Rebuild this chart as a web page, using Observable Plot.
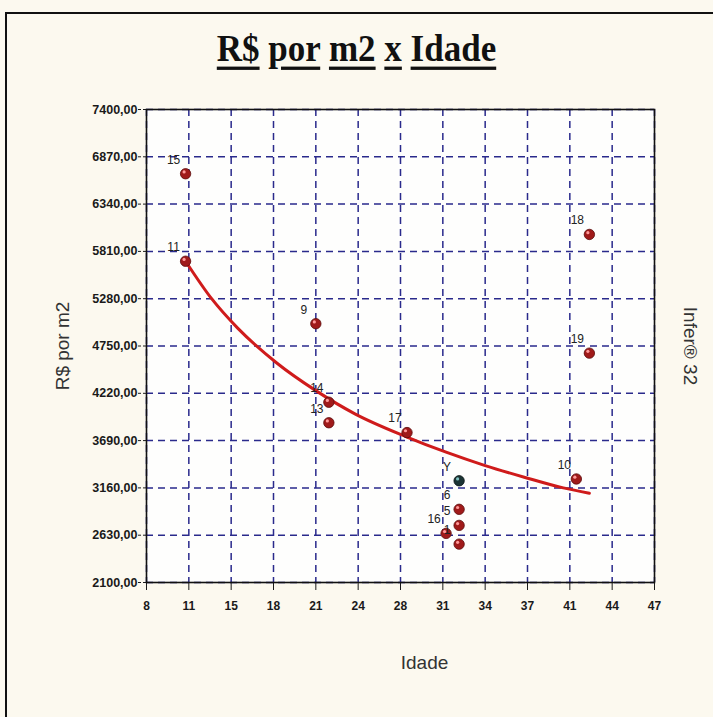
<!DOCTYPE html>
<html><head><meta charset="utf-8">
<script src="https://cdn.jsdelivr.net/npm/d3@7"></script>
<script src="https://cdn.jsdelivr.net/npm/@observablehq/plot@0.6"></script>
<style>
body{margin:0;background:#fcf9ef;}
#wrap{position:relative;width:713px;height:717px;overflow:hidden;background:#fcf9ef;}
#border{position:absolute;left:5px;top:12px;width:800px;height:800px;border-left:2px solid #111;border-top:2px solid #111;box-sizing:border-box;}
#title{position:absolute;left:0;width:713px;top:29px;text-align:center;font:bold 35px 'Liberation Serif','Times New Roman',serif;color:#111;transform:scaleY(1.1);}
#title u{text-decoration-thickness:3px;text-underline-offset:5px;}
#chart{position:absolute;left:0;top:0;}
</style></head>
<body>
<div id="wrap">
  <div id="border"></div>
  <div id="title"><u>R$</u> <u>por</u> <u>m2</u> <u>x</u> <u>Idade</u></div>
  <div id="chart"></div>
</div>
<script>
// pontos (dados)
const ids   = ["15","11","9","14","13","17","Y","6","5","16","1","18","19","10"];
const idade = [11, 11, 21, 22, 22, 28, 32, 32, 32, 31, 32, 42, 42, 41];
const valor = [6680,5700,5000,4120,3890,3780,3240,2920,2740,2650,2530,6000,4670,3260];
// curva de regressão
const curvaIdade = [11, 13, 15, 18, 21, 24, 28, 31, 34, 37, 40, 42];
const curvaValor = [5700,5280,4950,4560,4250,3990,3730,3560,3410,3280,3160,3100];
// ticks
const xTicks = [8,11.25,14.5,17.75,21,24.25,27.5,30.75,34,37.25,40.5,43.75,47];
const yTicks = [2100,2630,3160,3690,4220,4750,5280,5810,6340,6870,7400];

const pts = ids.map((id,i)=>({id, x: idade[i], y: valor[i], black: id==="Y"}));
const red = pts.filter(d=>!d.black), blk = pts.filter(d=>d.black);
const curva = curvaIdade.map((x,i)=>({x, y: curvaValor[i]}));

const sans = "'Liberation Sans',Arial,sans-serif";

const chart = Plot.plot({
  width: 713, height: 717,
  marginLeft: 146, marginRight: 59, marginTop: 109, marginBottom: 135,
  style: {background: "transparent", fontFamily: sans, color: "#1a1a1a"},
  x: {domain: [8, 47]},
  y: {domain: [2100, 7400]},
  marks: [
    Plot.frame({fill: "#fefefd", stroke: null}),
    Plot.gridX({ticks: xTicks, stroke: "#2a2a8c", strokeOpacity: 1, strokeWidth: 1.5, strokeDasharray: "7,5"}),
    Plot.gridY({ticks: yTicks, stroke: "#2a2a8c", strokeOpacity: 1, strokeWidth: 1.5, strokeDasharray: "7,5"}),
    Plot.axisY({ticks: yTicks, tickFormat: d => d.toFixed(2).replace(".", ","), tickSize: 8, tickPadding: 1, strokeDasharray: "3,2", fontSize: 12.5, fontWeight: "bold", label: null}),
    Plot.axisX({ticks: xTicks, tickFormat: d => Math.round(d), tickSize: 8, tickPadding: 11, fontSize: 12, fontWeight: "bold", label: null}),
    Plot.frame({stroke: "#111", strokeWidth: 1.6}),
    Plot.line(curva, {x: "x", y: "y", curve: "monotone-x", stroke: "#cf1b1b", strokeWidth: 3}),
    Plot.dot(red, {x: "x", y: "y", r: 5.2, fill: "#a01a1a", stroke: "#5a0b0b", strokeWidth: 0.8}),
    Plot.dot(blk, {x: "x", y: "y", r: 5.2, fill: "#1c3434", stroke: "#0a1414", strokeWidth: 0.8}),
    Plot.dot(pts, {x: "x", y: "y", r: 1.6, fill: d => d.black ? "#7fc0c0" : "#ff9a9a", dx: -1.5, dy: -1.8, stroke: null}),
    Plot.text(pts, {x: "x", y: "y", text: "id", dx: -12, dy: -14, fontSize: 12, fill: "#222"}),
    Plot.text(["R$ por m2"], {text: d => d, frameAnchor: "left", textAnchor: "middle", dx: -84, rotate: -90, fontSize: 19, fill: "#333"}),
    Plot.text(["Infer® 32"], {text: d => d, frameAnchor: "right", textAnchor: "middle", dx: 36, rotate: 90, fontSize: 19, fill: "#333"}),
    Plot.text(["Idade"], {text: d => d, frameAnchor: "bottom", dx: 24, dy: 86, fontSize: 19, fill: "#333"})
  ]
});
document.getElementById("chart").appendChild(chart);
</script>
</body></html>
